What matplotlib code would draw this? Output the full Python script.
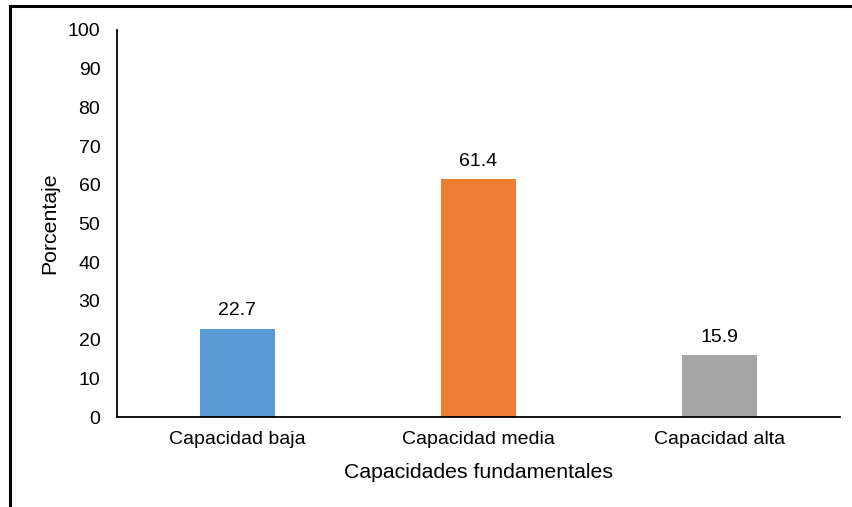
import matplotlib
matplotlib.use("Agg")
import matplotlib.pyplot as plt
from matplotlib.lines import Line2D

categories = ["Capacidad baja", "Capacidad media", "Capacidad alta"]
values = [22.7, 61.4, 15.9]
colors = ["#5B9BD5", "#ED7D31", "#A5A5A5"]
yticks = [0, 10, 20, 30, 40, 50, 60, 70, 80, 90, 100]

plt.rcParams['font.family'] = ['Liberation Sans', 'DejaVu Sans']

fig = plt.figure(figsize=(8.53, 5.07), dpi=100)
ax = fig.add_axes([117/853, 1-417/507, (840-117)/853, (417-30)/507])

x = range(len(categories))
bars = ax.bar(x, values, width=0.31, color=colors)
for xi, v in zip(x, values):
    ax.annotate(f"{v}", (xi, v), xytext=(0, 7), textcoords="offset points",
                ha="center", va="bottom", fontsize=14, color="#000000")

ax.set_xlim(-0.5, 2.5)
ax.set_ylim(0, 100)
ax.set_yticks(yticks)
ax.set_xticks(list(x))
ax.set_xticklabels(categories)
ax.tick_params(axis="both", length=0, labelsize=14, colors="#000000")
ax.tick_params(axis="y", pad=12)
ax.tick_params(axis="x", pad=10)
for s in ["top", "right"]:
    ax.spines[s].set_visible(False)
ax.spines["left"].set_linewidth(1.3)
ax.spines["bottom"].set_linewidth(1.3)
ax.set_ylabel("Porcentaje", fontsize=15.3, labelpad=6)
ax.set_xlabel("Capacidades fundamentales", fontsize=15.3, labelpad=11)

# outer frame (top and left only)
fig.add_artist(Line2D([10/853, 10/853], [0, 1-6/507], transform=fig.transFigure, color="black", lw=2.2))
fig.add_artist(Line2D([10/853, 1], [1-6/507, 1-6/507], transform=fig.transFigure, color="black", lw=2.2))

fig.savefig("out.png", dpi=100)
